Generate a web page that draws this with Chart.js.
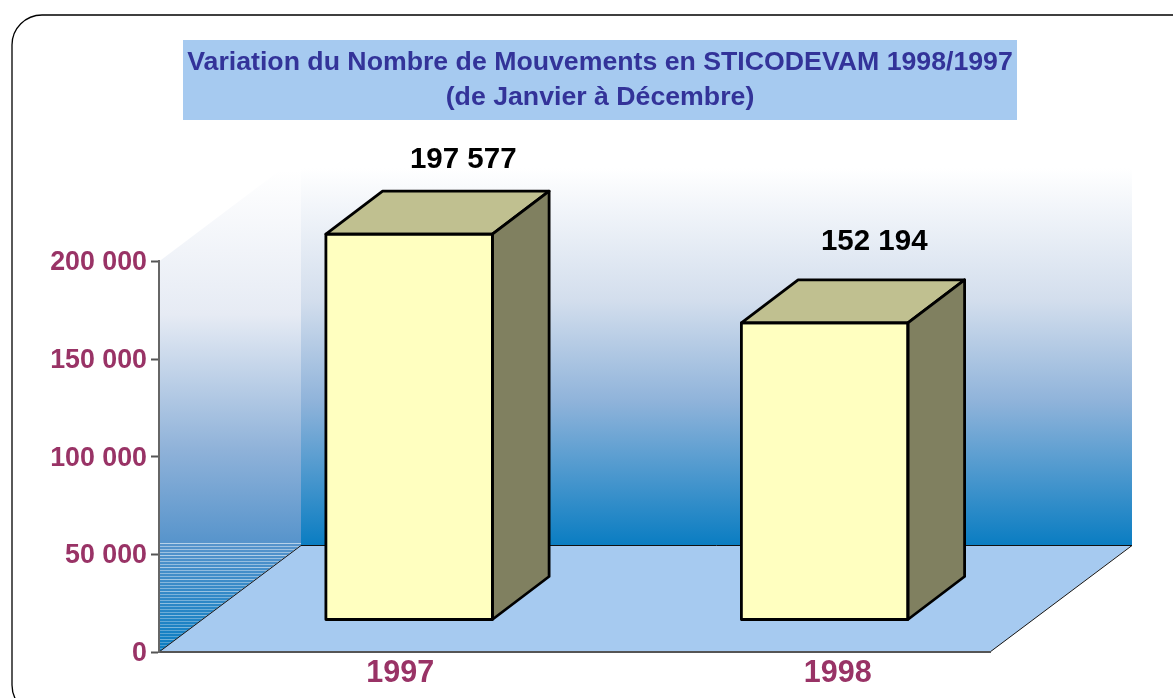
<!DOCTYPE html>
<html><head><meta charset="utf-8">
<style>html,body{margin:0;padding:0;background:#fff;overflow:hidden}canvas{display:block}</style>
<script src="https://cdn.jsdelivr.net/npm/chart.js@4"></script>
</head><body>
<canvas id="c" width="1173" height="698"></canvas>
<script>
const categories = ['1997', '1998'];
const mouvements = [197577, 152194];
const titleLines = ['Variation du Nombre de Mouvements en STICODEVAM 1998/1997', '(de Janvier à Décembre)'];

const FONT = '"Liberation Sans", Arial, sans-serif';
const WALL = {dx: 142, dy: 107};
const SHIFT = {x: 42.4, y: -32};
const BOX = {dx: 56.7, dy: 43};
const fmt = v => String(v).replace(/\B(?=(\d{3})+$)/g, ' ');

function poly(ctx, pts) {
  ctx.beginPath();
  pts.forEach((p, i) => i ? ctx.lineTo(p[0], p[1]) : ctx.moveTo(p[0], p[1]));
  ctx.closePath();
}

const scenePlugin = {
  id: 'scene',
  beforeDraw(chart) {
    const {ctx, chartArea: a} = chart;
    const L = a.left, R = a.right, B = a.bottom, T = a.top;
    const bx = L + WALL.dx, by = B - WALL.dy, ty = T - WALL.dy;
    ctx.save();
    // outer rounded frame
    ctx.beginPath();
    ctx.roundRect(12, 15, 1300, 700, 30);
    ctx.strokeStyle = '#000'; ctx.lineWidth = 1.3; ctx.stroke();
    // title band
    ctx.fillStyle = '#A6CAF0';
    ctx.fillRect(183, 40, 834, 80);
    // back wall
    let g = ctx.createLinearGradient(0, 168, 0, by);
    g.addColorStop(0, '#ffffff'); g.addColorStop(0.35, '#d3deed');
    g.addColorStop(0.62, '#8fb3da'); g.addColorStop(1, '#0A7DC2');
    ctx.fillStyle = g; ctx.fillRect(bx, 168, R + WALL.dx - bx, by - 168);
    // left wall
    poly(ctx, [[L, B], [bx, by], [bx, ty], [L, T]]);
    ctx.save(); ctx.clip();
    g = ctx.createLinearGradient(0, 170, 0, B);
    g.addColorStop(0, '#ffffff'); g.addColorStop(0.3, '#e6ebf4');
    g.addColorStop(0.58, '#8fb2d9'); g.addColorStop(0.78, '#5593cb'); g.addColorStop(1, '#0A7DC2');
    ctx.fillStyle = g; ctx.fillRect(L, 150, WALL.dx, B - 150);
    // banding of the lower wall
    for (let y = by - 2, i = 0; y < B; y += 3, i++) {
      ctx.fillStyle = 'rgba(255,255,255,' + (0.45 - 0.2 * (y - by) / WALL.dy + (i % 4 === 0 ? 0.12 : 0)) + ')';
      ctx.fillRect(L, y, WALL.dx, 1);
    }
    ctx.restore();
    // floor
    poly(ctx, [[L, B], [R, B], [R + WALL.dx, by], [bx, by]]);
    ctx.fillStyle = '#A6CAF0'; ctx.fill();
    ctx.strokeStyle = '#111'; ctx.lineWidth = 1;
    ctx.beginPath();
    ctx.moveTo(L, B); ctx.lineTo(bx, by + .5); ctx.lineTo(R + WALL.dx, by + .5); ctx.lineTo(R, B);
    ctx.stroke();
    ctx.restore();
  },
  beforeDatasetsDraw(chart) {
    chart.ctx.save();
    chart.ctx.translate(SHIFT.x, SHIFT.y);
  },
  afterDatasetsDraw(chart) {
    const ctx = chart.ctx;
    chart.getDatasetMeta(0).data.forEach(b => {
      const l = b.x - b.width / 2, r = b.x + b.width / 2, t = b.y, bt = b.base;
      ctx.lineWidth = 2.8; ctx.strokeStyle = '#000'; ctx.lineJoin = 'round';
      poly(ctx, [[l, t], [r, t], [r + BOX.dx, t - BOX.dy], [l + BOX.dx, t - BOX.dy]]);
      ctx.fillStyle = '#C0C090'; ctx.fill(); ctx.stroke();
      poly(ctx, [[r, t], [r + BOX.dx, t - BOX.dy], [r + BOX.dx, bt - BOX.dy], [r, bt]]);
      ctx.fillStyle = '#808060'; ctx.fill(); ctx.stroke();
      poly(ctx, [[l, t], [r, t], [r, bt], [l, bt]]);
      ctx.stroke();
    });
    ctx.restore();
  },
  afterDraw(chart) {
    const {ctx, scales} = chart;
    const labelNudge = [[96.5, -106], [92, -113]];
    const catNudge = [33.5, 55.5];
    ctx.save();
    ctx.textAlign = 'center'; ctx.textBaseline = 'middle';
    chart.getDatasetMeta(0).data.forEach((b, i) => {
      ctx.font = 'bold 29.5px ' + FONT; ctx.fillStyle = '#000';
      ctx.fillText(fmt(mouvements[i]), b.x + labelNudge[i][0], b.y + labelNudge[i][1]);
      ctx.font = 'bold 30.5px ' + FONT; ctx.fillStyle = '#993366';
      ctx.fillText(categories[i], scales.x.getPixelForValue(i) + catNudge[i], 674);
    });
    ctx.restore();
  }
};

new Chart(document.getElementById('c'), {
  type: 'bar',
  data: {
    labels: categories,
    datasets: [{
      data: mouvements,
      backgroundColor: '#FFFFC0',
      borderWidth: 0,
      barThickness: 166.5,
      clip: false
    }]
  },
  plugins: [scenePlugin],
  options: {
    responsive: false,
    animation: false,
    devicePixelRatio: 1,
    layout: {padding: {left: 27, right: 0, top: 0, bottom: 0}},
    plugins: {
      legend: {display: false},
      tooltip: {enabled: false},
      title: {
        display: true,
        text: titleLines,
        color: '#333399',
        font: {family: FONT, size: 26.7, weight: 'bold', lineHeight: 1.31},
        padding: {top: 45, bottom: 146.5}
      }
    },
    scales: {
      x: {
        grid: {display: false},
        border: {color: '#555', width: 2},
        ticks: {display: false},
        afterFit: s => { s.height = 46; }
      },
      y: {
        min: 0, max: 200000,
        grid: {drawOnChartArea: false, drawTicks: true, tickLength: 8, tickColor: '#555', tickWidth: 2},
        border: {color: '#666', width: 2},
        ticks: {
          stepSize: 50000, padding: 4, color: '#993366', labelOffset: 1.5,
          font: {family: FONT, size: 26.8, weight: 'bold'},
          callback: v => fmt(v)
        },
        afterFit: s => { s.width = 132; }
      },
      yR: {
        position: 'right',
        grid: {display: false},
        border: {display: false},
        ticks: {display: false},
        afterFit: s => { s.width = 183; }
      }
    }
  }
});
</script>
</body></html>
